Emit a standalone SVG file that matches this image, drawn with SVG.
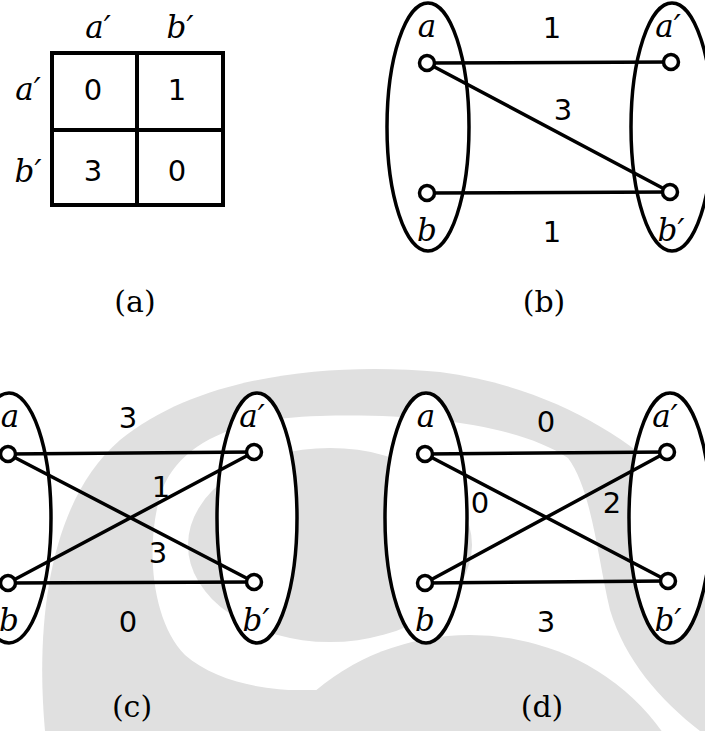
<svg xmlns="http://www.w3.org/2000/svg" width="705" height="731" viewBox="0 0 705 731">
<style>
.wm{fill:#e0e0e0;stroke:none}
.ell{fill:#ffffff;stroke:#000;stroke-width:3.5}
.edge{stroke:#000;stroke-width:3.5;fill:none;stroke-linecap:round}
.node{fill:#fff;stroke:#000;stroke-width:3.5}
.var{font-family:"DejaVu Serif","Liberation Serif",serif;font-style:italic;font-size:31px;fill:#000;text-anchor:middle}
.num{font-family:"DejaVu Sans","Liberation Sans",sans-serif;font-size:29px;fill:#000;text-anchor:middle}
.cap{font-family:"DejaVu Serif","Liberation Serif",serif;font-size:30px;fill:#000;text-anchor:middle}
.grid{fill:none;stroke:#000;stroke-width:4}
</style>
<rect width="705" height="731" fill="#fff"/>
<g id="watermark">
<path class="wm" d="M45,731 C35,620 50,500 120,440 C200,375 330,362 440,372 C540,385 620,430 670,480 C690,500 705,520 705,540 L705,731 Z"/>
<path d="M352,686 C300,696 225,690 185,655 C150,620 145,540 162,490 C182,440 240,418 320,416 C420,413 520,425 568,458 C592,490 598,560 610,610 C625,660 660,700 700,731 L352,731 Z" fill="#fff"/>
<ellipse class="wm" cx="330" cy="545" rx="142" ry="97"/>
<ellipse class="wm" cx="470" cy="850" rx="230" ry="215"/>
<rect class="wm" x="45" y="690" width="300" height="41"/>
</g>
<g id="panel-a">
<rect class="grid" x="52" y="53" width="171" height="152"/>
<line class="grid" x1="137" y1="53" x2="137" y2="205"/>
<line class="grid" x1="52" y1="130" x2="223" y2="130"/>
<text class="var" x="98" y="38">a′</text>
<text class="var" x="180" y="38">b′</text>
<text class="var" x="28" y="100">a′</text>
<text class="var" x="28" y="182">b′</text>
<text class="num" x="93" y="100">0</text>
<text class="num" x="177" y="100">1</text>
<text class="num" x="93" y="181">3</text>
<text class="num" x="177" y="181">0</text>
<text class="cap" x="135" y="312">(a)</text>
</g>
<g id="panel-b">
<g id="b-left"><ellipse class="ell" cx="428" cy="127" rx="41" ry="124"/></g>
<g id="b-right"><ellipse class="ell" cx="672" cy="127" rx="41" ry="124"/></g>
<g id="b-edges">
<line class="edge" x1="427" y1="63" x2="671" y2="62"/>
<line class="edge" x1="427" y1="63" x2="670" y2="192"/>
<line class="edge" x1="427" y1="193" x2="670" y2="192"/>
</g>
<g id="b-node-a"><circle class="node" cx="427" cy="63" r="7.5"/><text class="var" x="427" y="37">a</text></g>
<g id="b-node-b"><circle class="node" cx="427" cy="193" r="7.5"/><text class="var" x="427" y="241">b</text></g>
<g id="b-node-a2"><circle class="node" cx="671" cy="62" r="7.5"/><text class="var" x="668" y="37">a′</text></g>
<g id="b-node-b2"><circle class="node" cx="670" cy="192" r="7.5"/><text class="var" x="671" y="241">b′</text></g>
<text class="num" x="552" y="38">1</text>
<text class="num" x="563" y="120">3</text>
<text class="num" x="552" y="242">1</text>
<text class="cap" x="544" y="312">(b)</text>
</g>
<g id="panel-c">
<g id="c-left"><ellipse class="ell" cx="9" cy="518" rx="42" ry="125"/></g>
<g id="c-right"><ellipse class="ell" cx="257" cy="518" rx="40" ry="125"/></g>
<g id="c-edges">
<line class="edge" x1="8" y1="454" x2="254" y2="452"/>
<line class="edge" x1="8" y1="454" x2="254" y2="582"/>
<line class="edge" x1="8" y1="583" x2="254" y2="452"/>
<line class="edge" x1="8" y1="583" x2="254" y2="582"/>
</g>
<g id="c-node-a"><circle class="node" cx="8" cy="454" r="7.5"/><text class="var" x="10" y="427">a</text></g>
<g id="c-node-b"><circle class="node" cx="8" cy="583" r="7.5"/><text class="var" x="9" y="631">b</text></g>
<g id="c-node-a2"><circle class="node" cx="254" cy="452" r="7.5"/><text class="var" x="252" y="427">a′</text></g>
<g id="c-node-b2"><circle class="node" cx="254" cy="582" r="7.5"/><text class="var" x="256" y="631">b′</text></g>
<text class="num" x="128" y="428">3</text>
<text class="num" x="161" y="497">1</text>
<text class="num" x="158" y="563">3</text>
<text class="num" x="128" y="632">0</text>
<text class="cap" x="132" y="717">(c)</text>
</g>
<g id="panel-d">
<g id="d-left"><ellipse class="ell" cx="426" cy="518" rx="41" ry="125"/></g>
<g id="d-right"><ellipse class="ell" cx="670" cy="518" rx="41" ry="125"/></g>
<g id="d-edges">
<line class="edge" x1="425" y1="454" x2="667" y2="452"/>
<line class="edge" x1="425" y1="454" x2="668" y2="581"/>
<line class="edge" x1="425" y1="583" x2="667" y2="452"/>
<line class="edge" x1="425" y1="583" x2="668" y2="581"/>
</g>
<g id="d-node-a"><circle class="node" cx="425" cy="454" r="7.5"/><text class="var" x="426" y="427">a</text></g>
<g id="d-node-b"><circle class="node" cx="425" cy="583" r="7.5"/><text class="var" x="425" y="631">b</text></g>
<g id="d-node-a2"><circle class="node" cx="667" cy="452" r="7.5"/><text class="var" x="665" y="427">a′</text></g>
<g id="d-node-b2"><circle class="node" cx="668" cy="581" r="7.5"/><text class="var" x="668" y="631">b′</text></g>
<text class="num" x="546" y="432">0</text>
<text class="num" x="480" y="513">0</text>
<text class="num" x="612" y="513">2</text>
<text class="num" x="546" y="632">3</text>
<text class="cap" x="542" y="717">(d)</text>
</g>
</svg>
